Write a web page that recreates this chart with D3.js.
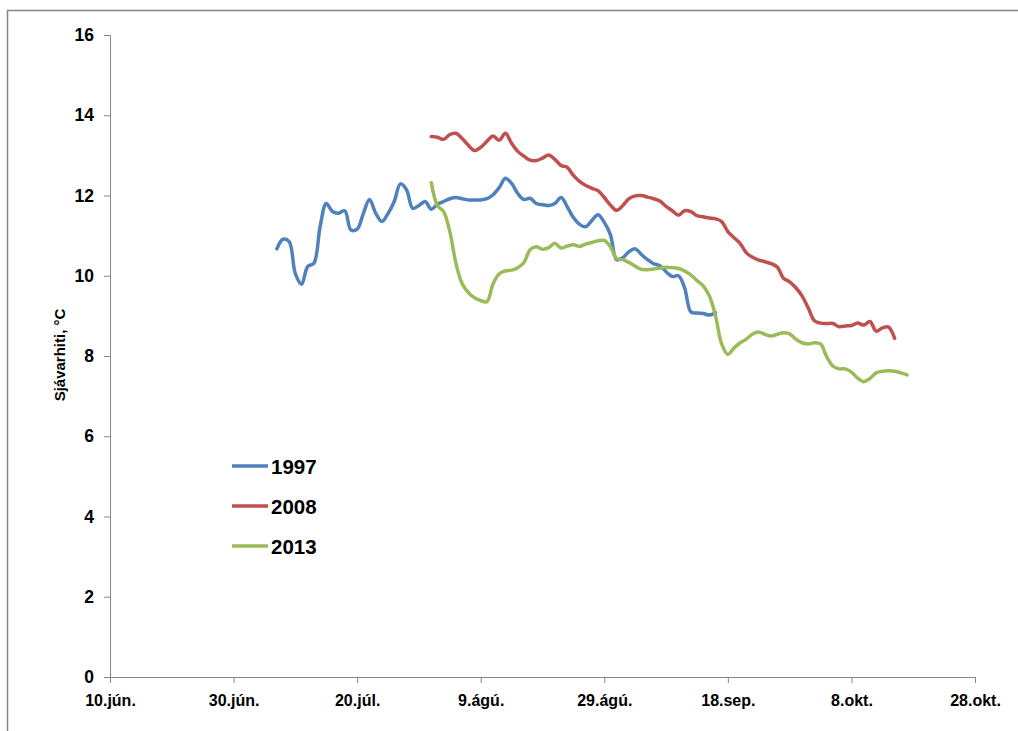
<!DOCTYPE html>
<html lang="is">
<head>
<meta charset="utf-8">
<title>Sjávarhiti</title>
<script src="https://d3js.org/d3.v7.min.js"></script>
<style>
  html, body { margin: 0; padding: 0; background: #fff; }
  svg { display: block; }
  .lbl { font-family: "Liberation Sans", Arial, sans-serif; font-weight: bold; fill: #000; }
</style>
</head>
<body>
<svg width="1018" height="731"></svg>
<script>
// x axis tick labels (every 20 days from 10 June)
const tickLabels = ["10.jún.", "30.jún.", "20.júl.", "9.ágú.", "29.ágú.", "18.sep.", "8.okt.", "28.okt."];
const yTicks = [0, 2, 4, 6, 8, 10, 12, 14, 16];

// daily series, first value on the start date (month-day)
const years = ["1997", "2008", "2013"];
const startDates = ["07-07", "08-01", "08-01"];
const colors = ["#4F81BD", "#C0504D", "#9BBB59"];

const temp1997 = [10.67, 10.91, 10.85, 10.05, 9.79, 10.23, 10.31, 11.22, 11.8, 11.6,
  11.56, 11.62, 11.14, 11.16, 11.55, 11.9, 11.56, 11.35, 11.55, 11.85,
  12.29, 12.14, 11.68, 11.75, 11.85, 11.66, 11.78, 11.85, 11.92, 11.95,
  11.92, 11.89, 11.89, 11.89, 11.92, 12.02, 12.2, 12.43, 12.3, 12.05,
  11.9, 11.93, 11.8, 11.77, 11.75, 11.8, 11.95, 11.72, 11.45, 11.28,
  11.22, 11.38, 11.52, 11.33, 11.02, 10.4, 10.45, 10.6, 10.67, 10.53,
  10.4, 10.3, 10.25, 10.1, 9.98, 10.0, 9.7, 9.1, 9.07, 9.06,
  9.02, 9.08];

const temp2008 = [13.47, 13.45, 13.4, 13.52, 13.55, 13.42, 13.25, 13.12, 13.2, 13.35,
  13.48, 13.38, 13.55, 13.3, 13.1, 12.98, 12.88, 12.87, 12.93, 13.01,
  12.9, 12.75, 12.7, 12.5, 12.35, 12.25, 12.18, 12.12, 11.95, 11.76,
  11.63, 11.75, 11.92, 11.99, 12.0, 11.96, 11.92, 11.86, 11.73, 11.62,
  11.51, 11.62, 11.6, 11.5, 11.47, 11.44, 11.42, 11.35, 11.1, 10.95,
  10.8, 10.57, 10.46, 10.39, 10.35, 10.3, 10.22, 9.94, 9.85, 9.7,
  9.5, 9.2, 8.88, 8.82, 8.81, 8.81, 8.73, 8.75, 8.76, 8.82,
  8.77, 8.86, 8.62, 8.7, 8.72, 8.44];

const temp2013 = [12.32, 11.75, 11.6, 11.1, 10.3, 9.8, 9.58, 9.45, 9.38, 9.35,
  9.8, 10.05, 10.12, 10.14, 10.2, 10.33, 10.65, 10.72, 10.66, 10.7,
  10.81, 10.69, 10.74, 10.77, 10.73, 10.79, 10.83, 10.87, 10.88, 10.72,
  10.43, 10.4, 10.33, 10.24, 10.16, 10.15, 10.17, 10.19, 10.21, 10.2,
  10.18, 10.12, 10.02, 9.88, 9.75, 9.5, 9.0, 8.3, 8.04, 8.2,
  8.33, 8.42, 8.55, 8.6, 8.54, 8.5, 8.54, 8.58, 8.55, 8.42,
  8.33, 8.3, 8.33, 8.3, 7.98, 7.75, 7.68, 7.68, 7.6, 7.45,
  7.36, 7.44, 7.58, 7.62, 7.63, 7.62, 7.58, 7.53];

const seriesValues = [temp1997, temp2008, temp2013];

const svg = d3.select("svg");
const parse = d3.timeParse("%Y-%m-%d");
const day0 = parse("2001-06-10");
const dayEnd = parse("2001-10-28");

const x = d3.scaleTime().domain([day0, dayEnd]).range([110, 975]);
const y = d3.scaleLinear().domain([0, 16]).range([677, 35]);

// outer chart border
svg.append("rect")
   .attr("x", 7.5).attr("y", 10.5)
   .attr("width", 1030).attr("height", 740)
   .attr("fill", "none")
   .attr("stroke", "#868686")
   .attr("stroke-width", 1.5);

// y axis
const yAxis = svg.append("g")
   .attr("transform", "translate(110,0)")
   .call(d3.axisLeft(y).tickValues(yTicks).tickSize(6).tickPadding(10));
yAxis.select(".domain").attr("stroke", "#868686");
yAxis.selectAll(".tick line").attr("stroke", "#868686");
yAxis.selectAll("text").attr("class", "lbl").style("font-size", "17.5px");

// x axis
const xTickDates = tickLabels.map((t, i) => d3.timeDay.offset(day0, i * 20));
const xAxis = svg.append("g")
   .attr("transform", "translate(0,677)")
   .call(d3.axisBottom(x).tickValues(xTickDates)
      .tickFormat((d, i) => tickLabels[i]).tickSize(6).tickPadding(12));
xAxis.select(".domain").attr("stroke", "#868686");
xAxis.selectAll(".tick line").attr("stroke", "#868686");
xAxis.selectAll("text").attr("class", "lbl").style("font-size", "16px");

// y axis title
svg.append("text")
   .attr("class", "lbl")
   .attr("transform", "translate(65,355) rotate(-90)")
   .attr("text-anchor", "middle")
   .style("font-size", "15px")
   .text("Sjávarhiti, °C");

// lines
const line = d3.line()
   .x(d => x(d.date))
   .y(d => y(d.value))
   .curve(d3.curveCatmullRom.alpha(0.5));

years.forEach((yr, i) => {
  const start = parse("2001-" + startDates[i]);
  const pts = seriesValues[i].map((v, k) => ({ date: d3.timeDay.offset(start, k), value: v }));
  svg.append("path")
     .datum(pts)
     .attr("fill", "none")
     .attr("stroke", colors[i])
     .attr("stroke-width", 3.5)
     .attr("stroke-linejoin", "round")
     .attr("stroke-linecap", "round")
     .attr("d", line);
});

// legend
const legend = svg.append("g").attr("transform", "translate(232,466)");
years.forEach((yr, i) => {
  const g = legend.append("g").attr("transform", `translate(0,${i * 40})`);
  g.append("line")
   .attr("x1", 0).attr("x2", 36)
   .attr("stroke", colors[i])
   .attr("stroke-width", 3.5);
  g.append("text")
   .attr("class", "lbl")
   .attr("x", 39).attr("y", 7.5)
   .style("font-size", "20.5px")
   .text(yr);
});
</script>
</body>
</html>
